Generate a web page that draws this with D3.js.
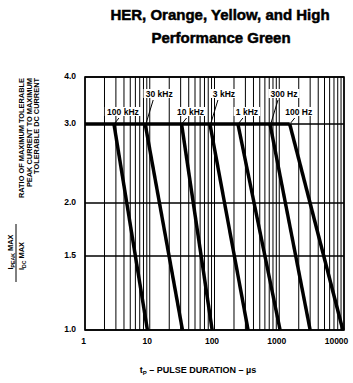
<!DOCTYPE html>
<html><head><meta charset="utf-8">
<script src="https://cdn.jsdelivr.net/npm/d3@7"></script>
<style>
body{margin:0;background:#fff;}
svg{display:block;font-family:"Liberation Sans",Arial,sans-serif;font-weight:bold;}
</style></head>
<body><svg id="c" width="353" height="383"></svg>
<script>
// ---- data ----
const freqLabels = ["100 kHz","30 kHz","10 kHz","3 kHz","1 kHz","300 Hz","100 Hz"];
const startTp = [2.8, 8.5, 31, 85, 230, 720, 1450];   // pulse duration (µs) where ratio leaves 3.0
const endTp   = [9.2, 32, 92, 330, 1030, 3000, 9600];   // pulse duration (µs) where ratio reaches 1.0
const plateau = 3.0;
const floorRatio = 1.0;
const xTickValues = [1, 10, 100, 1000, 10000];
const xTickLabels = ["1", "10", "100", "1000", "10000"];
const yTickValues = [1.0, 1.5, 2.0, 3.0, 4.0];
const yTickLabels = ["1.0", "1.5", "2.0", "3.0", "4.0"];

const svg = d3.select("#c");
const L = 85, R = 344, T = 77, B = 330;
const x = d3.scaleLog().domain([1, 10000]).range([L, R]);
const y = d3.scaleLog().domain(yTickValues).range([330, 256, 203, 124, 77]);

// title
svg.append("text").attr("x", 220).attr("y", 20).attr("text-anchor", "middle")
  .attr("font-size", 15).attr("stroke", "#000").attr("stroke-width", 0.5).text("HER, Orange, Yellow, and High");
svg.append("text").attr("x", 221).attr("y", 43).attr("text-anchor", "middle")
  .attr("font-size", 15).attr("stroke", "#000").attr("stroke-width", 0.5).text("Performance Green");

// vertical grid lines
const gridX = x.ticks();
svg.append("g").selectAll("line").data(gridX).join("line")
  .attr("x1", d => x(d)).attr("x2", d => x(d)).attr("y1", T).attr("y2", B)
  .attr("stroke", "#000").attr("stroke-width", 1);
// horizontal grid lines
svg.append("g").selectAll("line").data(yTickValues).join("line")
  .attr("x1", L).attr("x2", R).attr("y1", d => y(d)).attr("y2", d => y(d))
  .attr("stroke", "#000").attr("stroke-width", 1.3);
// frame
svg.append("rect").attr("x", L).attr("y", T).attr("width", R - L).attr("height", B - T)
  .attr("fill", "none").attr("stroke", "#000").attr("stroke-width", 1.6);

// thick plateau line
svg.append("line").attr("x1", x(1)).attr("x2", x(d3.max(startTp)))
  .attr("y1", y(plateau)).attr("y2", y(plateau)).attr("stroke", "#000").attr("stroke-width", 3.5);

// diagonal curves
svg.append("g").selectAll("line").data(freqLabels).join("line")
  .attr("x1", (d, i) => x(startTp[i])).attr("y1", y(plateau))
  .attr("x2", (d, i) => x(endTp[i])).attr("y2", y(floorRatio))
  .attr("stroke", "#000").attr("stroke-width", 3.5).attr("stroke-linecap", "butt");

// curve labels with leaders
const lab = svg.append("g");
freqLabels.forEach((f, i) => {
  const sx = x(startTp[i]), sy = y(plateau);
  const high = i % 2 === 1;
  const ty = high ? sy - 27 : sy - 9;
  const tx = sx + (high ? 14 : 9);
  const w = f.length * 4.9;
  lab.append("rect").attr("x", tx - w / 2 - 1).attr("y", ty - 8).attr("width", w + 2).attr("height", 9).attr("fill", "#fff");
  lab.append("text").attr("x", tx).attr("y", ty).attr("text-anchor", "middle")
    .attr("font-size", 8.5).text(f);
  lab.append("line").attr("x1", sx + (high ? 8 : 5)).attr("y1", ty + 3)
    .attr("x2", sx + 1).attr("y2", sy - 1).attr("stroke", "#000").attr("stroke-width", 1);
});

// x axis labels
const xAxis = d3.axisBottom(x).tickValues(xTickValues).tickSize(0).tickPadding(8)
  .tickFormat((d, i) => xTickLabels[i]);
const gx = svg.append("g").attr("transform", `translate(0,${B})`).call(xAxis);
gx.select(".domain").remove();
gx.selectAll("text").attr("font-size", 8.5).attr("font-weight", "bold")
  .attr("font-family", "Liberation Sans, Arial, sans-serif").attr("fill", "#000")
  .attr("dx", (d, i) => i === 0 ? -2 : (i === 4 ? -8 : -3));

// y axis labels
const yAxis = d3.axisLeft(y).tickValues(yTickValues).tickSize(0).tickPadding(8)
  .tickFormat((d, i) => yTickLabels[i]);
const gy = svg.append("g").attr("transform", `translate(${L},0)`).call(yAxis);
gy.select(".domain").remove();
gy.selectAll("text").attr("font-size", 8.5).attr("font-weight", "bold")
  .attr("font-family", "Liberation Sans, Arial, sans-serif").attr("fill", "#000")
  .attr("dx", -1).attr("dy", "0.2em");

// x axis title
const xt = svg.append("text").attr("x", 198).attr("y", 373).attr("text-anchor", "middle").attr("font-size", 9);
xt.append("tspan").text("t");
xt.append("tspan").attr("font-size", 6).attr("dy", 2).text("P");
xt.append("tspan").attr("dy", -2).text(" – PULSE DURATION – µs");

// y axis title (rotated)
const yt = svg.append("g").attr("transform", "translate(0,0) rotate(-90)");
const ylines = ["RATIO OF MAXIMUM TOLERABLE", "PEAK CURRENT TO MAXIMUM", "TOLERABLE DC CURRENT"];
ylines.forEach((t, i) => {
  yt.append("text").attr("x", -78).attr("y", 24 + i * 7.7).attr("text-anchor", "end")
    .attr("font-size", 7.4).text(t);
});
// fraction
const num = yt.append("text").attr("x", -252).attr("y", 13).attr("text-anchor", "middle").attr("font-size", 7.4);
num.append("tspan").text("I");
num.append("tspan").attr("font-size", 5.2).attr("dy", 1.5).text("PEAK");
num.append("tspan").attr("dy", -1.5).text("  MAX");
yt.append("line").attr("x1", -224).attr("x2", -282).attr("y1", 16).attr("y2", 16).attr("stroke", "#000").attr("stroke-width", 1);
const den = yt.append("text").attr("x", -256).attr("y", 24).attr("text-anchor", "middle").attr("font-size", 7.4);
den.append("tspan").text("I");
den.append("tspan").attr("font-size", 5.2).attr("dy", 1.5).text("DC");
den.append("tspan").attr("dy", -1.5).text("  MAX");
</script></body></html>
